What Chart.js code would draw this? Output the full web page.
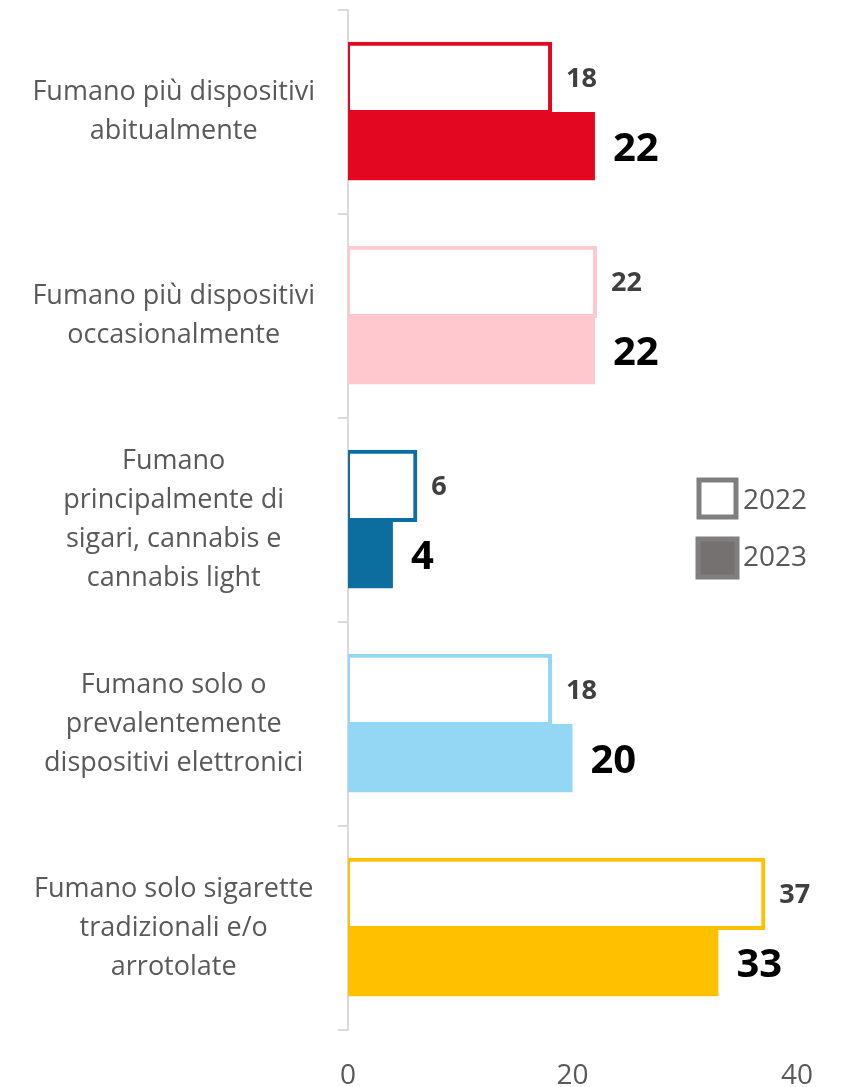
<!DOCTYPE html>
<html>
<head>
<meta charset="utf-8">
<script src="https://cdn.jsdelivr.net/npm/chart.js@4"></script>
<style>
  html, body { margin: 0; padding: 0; background: #ffffff; }
  canvas { display: block; }
</style>
</head>
<body>
<canvas id="chart" width="843" height="1087"></canvas>
<script>
// dati
const categorie = [
  ['Fumano più dispositivi', 'abitualmente'],
  ['Fumano più dispositivi', 'occasionalmente'],
  ['Fumano', 'principalmente di', 'sigari, cannabis e', 'cannabis light'],
  ['Fumano solo o', 'prevalentemente', 'dispositivi elettronici'],
  ['Fumano solo sigarette', 'tradizionali e/o', 'arrotolate']
];
const valori2022 = [18, 22, 6, 18, 37];
const valori2023 = [22, 22, 4, 20, 33];
const colori = ['#E30722', '#FFC7CE', '#0B6E9F', '#94D7F5', '#FFC000'];
const etichetteAnni = ['2022', '2023'];

const FONT = '"Open Sans", "DejaVu Sans", sans-serif';

// etichette dei valori accanto alle barre
const etichetteValori = {
  id: 'etichetteValori',
  afterDatasetsDraw(chart) {
    const ctx = chart.ctx;
    ctx.save();
    ctx.textBaseline = 'middle';
    ctx.textAlign = 'left';
    chart.data.datasets.forEach((ds, i) => {
      const meta = chart.getDatasetMeta(i);
      meta.data.forEach((bar, j) => {
        if (i === 0) {
          ctx.font = 'bold 27px ' + FONT;
          ctx.fillStyle = '#404040';
          ctx.fillText(ds.data[j], bar.x + 16, bar.y + 1);
        } else {
          ctx.font = 'bold 40px ' + FONT;
          ctx.fillStyle = '#000000';
          ctx.fillText(ds.data[j], bar.x + 18, bar.y + 3);
        }
      });
    });
    ctx.restore();
  }
};

// legenda a destra, a metà altezza
const legendaLaterale = {
  id: 'legendaLaterale',
  afterDraw(chart) {
    const ctx = chart.ctx;
    const a = chart.chartArea;
    const x = a.right - 98;
    const y0 = a.top + 470;
    ctx.save();
    // 2022: quadrato vuoto
    ctx.lineWidth = 5;
    ctx.strokeStyle = '#7F7F7F';
    ctx.fillStyle = '#ffffff';
    ctx.fillRect(x, y0, 37, 37);
    ctx.strokeRect(x, y0, 37, 37);
    // 2023: quadrato pieno
    ctx.fillStyle = '#767171';
    ctx.fillRect(x - 1, y0 + 59, 39, 38);
    ctx.strokeRect(x - 1, y0 + 59, 39, 38);
    ctx.fillStyle = '#595959';
    ctx.font = '28px ' + FONT;
    ctx.textBaseline = 'middle';
    ctx.textAlign = 'left';
    ctx.fillText(etichetteAnni[0], x + 44, y0 + 21);
    ctx.fillText(etichetteAnni[1], x + 44, y0 + 78);
    ctx.restore();
  }
};

const chart = new Chart(document.getElementById('chart'), {
  type: 'bar',
  data: {
    labels: categorie,
    datasets: [
      {
        label: etichetteAnni[0],
        data: valori2022,
        backgroundColor: '#ffffff',
        borderColor: colori,
        borderWidth: 4,
        borderSkipped: false,
        inflateAmount: 2,
        categoryPercentage: 0.67,
        barPercentage: 1.0
      },
      {
        label: etichetteAnni[1],
        data: valori2023,
        backgroundColor: colori,
        borderWidth: 0,
        inflateAmount: 0,
        categoryPercentage: 0.67,
        barPercentage: 1.0
      }
    ]
  },
  options: {
    indexAxis: 'y',
    responsive: false,
    animation: false,
    layout: { padding: { top: 10, right: 46, left: 0, bottom: 0 } },
    plugins: {
      legend: { display: false },
      tooltip: { enabled: false }
    },
    scales: {
      x: {
        min: 0,
        max: 40,
        ticks: {
          stepSize: 20,
          color: '#595959',
          font: { family: FONT, size: 28 },
          padding: 29
        },
        grid: { display: false, drawTicks: false },
        border: { display: false },
        afterFit(scale) {
          scale.height = 57;
          scale.paddingLeft = 0;
          scale.paddingRight = 0;
        }
      },
      y: {
        offset: true,
        ticks: {
          color: '#595959',
          font: { family: FONT, size: 27, lineHeight: 1.44 },
          crossAlign: 'center',
          padding: 23
        },
        grid: {
          drawOnChartArea: false,
          offset: true,
          tickLength: 10,
          color: '#D9D9D9',
          lineWidth: 2
        },
        border: { color: '#D9D9D9', width: 2 },
        afterFit(scale) {
          scale.width = 348;
          scale.paddingTop = 0;
          scale.paddingBottom = 0;
        }
      }
    }
  },
  plugins: [etichetteValori, legendaLaterale]
});
</script>
</body>
</html>
